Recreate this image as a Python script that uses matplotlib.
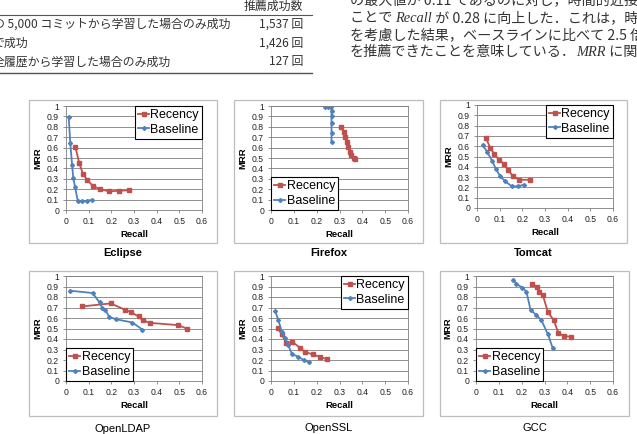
import matplotlib
matplotlib.use("Agg")
import matplotlib.pyplot as plt
from matplotlib.patches import Rectangle
from matplotlib.lines import Line2D

W, H = 637, 434
JP = ['Noto Sans CJK JP', 'DejaVu Sans']
plt.rcParams['font.family'] = ['Liberation Sans', 'DejaVu Sans']

# ---- data ----
projects = ["Eclipse", "Firefox", "Tomcat", "OpenLDAP", "OpenSSL", "GCC"]

eclipse_rec_x = [0.041, 0.058, 0.074, 0.093, 0.117, 0.148, 0.19, 0.236, 0.278]
eclipse_rec_y = [0.61, 0.455, 0.35, 0.29, 0.235, 0.20, 0.18, 0.185, 0.19]
eclipse_base_x = [0.012, 0.019, 0.027, 0.032, 0.040, 0.052, 0.072, 0.093, 0.115]
eclipse_base_y = [0.89, 0.64, 0.43, 0.31, 0.22, 0.087, 0.083, 0.09, 0.096]

firefox_rec_x = [0.306, 0.318, 0.326, 0.333, 0.339, 0.345, 0.352, 0.363, 0.370]
firefox_rec_y = [0.80, 0.753, 0.705, 0.657, 0.609, 0.561, 0.526, 0.497, 0.487]
firefox_base_x = [0.236, 0.250, 0.264, 0.265, 0.265, 0.265, 0.265, 0.265]
firefox_base_y = [0.987, 0.994, 0.987, 0.955, 0.90, 0.833, 0.744, 0.65]

tomcat_rec_x = [0.040, 0.059, 0.076, 0.096, 0.118, 0.137, 0.157, 0.187, 0.232]
tomcat_rec_y = [0.677, 0.58, 0.526, 0.468, 0.429, 0.37, 0.313, 0.274, 0.274]
tomcat_base_x = [0.025, 0.044, 0.066, 0.084, 0.103, 0.125, 0.154, 0.181, 0.206]
tomcat_base_y = [0.613, 0.548, 0.461, 0.377, 0.306, 0.258, 0.21, 0.21, 0.226]

ldap_rec_x = [0.071, 0.197, 0.259, 0.288, 0.320, 0.338, 0.369, 0.495, 0.532]
ldap_rec_y = [0.71, 0.739, 0.68, 0.653, 0.615, 0.58, 0.554, 0.532, 0.50]
ldap_base_x = [0.018, 0.117, 0.148, 0.160, 0.174, 0.191, 0.219, 0.293, 0.337]
ldap_base_y = [0.86, 0.838, 0.748, 0.694, 0.675, 0.611, 0.589, 0.557, 0.49]

ssl_rec_x = [0.029, 0.047, 0.066, 0.094, 0.127, 0.149, 0.182, 0.215, 0.246]
ssl_rec_y = [0.505, 0.444, 0.362, 0.371, 0.317, 0.276, 0.254, 0.229, 0.206]
ssl_base_x = [0.018, 0.032, 0.047, 0.061, 0.076, 0.091, 0.120, 0.146, 0.168]
ssl_base_y = [0.667, 0.584, 0.467, 0.413, 0.34, 0.26, 0.229, 0.197, 0.178]

gcc_rec_x = [0.247, 0.268, 0.278, 0.293, 0.315, 0.340, 0.361, 0.384, 0.416]
gcc_rec_y = [0.927, 0.892, 0.847, 0.815, 0.656, 0.58, 0.458, 0.43, 0.42]
gcc_base_x = [0.164, 0.177, 0.203, 0.221, 0.239, 0.264, 0.286, 0.315, 0.336]
gcc_base_y = [0.962, 0.924, 0.89, 0.85, 0.675, 0.63, 0.58, 0.446, 0.312]

series = [
    (eclipse_rec_x, eclipse_rec_y, eclipse_base_x, eclipse_base_y),
    (firefox_rec_x, firefox_rec_y, firefox_base_x, firefox_base_y),
    (tomcat_rec_x, tomcat_rec_y, tomcat_base_x, tomcat_base_y),
    (ldap_rec_x, ldap_rec_y, ldap_base_x, ldap_base_y),
    (ssl_rec_x, ssl_rec_y, ssl_base_x, ssl_base_y),
    (gcc_rec_x, gcc_rec_y, gcc_base_x, gcc_base_y),
]

table_rows = ["の 5,000 コミットから学習した場合のみ成功", "で成功", "全履歴から学習した場合のみ成功"]
table_counts = ["1,537 回", "1,426 回", "127 回"]
table_header = "推薦成功数"

body_lines = [
    [("の最大値が 0.11 であるのに対し，時間的近接性を", None)],
    [("ことで ", None), ("Recall", "it"), (" が 0.28 に向上した．これは，時間", None)],
    [("を考慮した結果，ベースラインに比べて 2.5 倍の", None)],
    [("を推薦できたことを意味している．", None), ("MRR", "it"), (" に関し", None)],
]

# ---- layout (pixels) ----
frames = [(29, 100, 217, 243), (234, 100, 423, 243), (440, 100, 627, 243),
          (29, 271, 217, 416), (234, 271, 423, 416), (440, 271, 629, 416)]
plots = [(66, 106, 202, 210), (271, 106, 408, 210), (477, 105, 613, 208),
         (66, 276, 202, 381), (271, 276, 408, 381), (476, 276, 613, 381)]
legend_locs = ["upper right", "lower left", "upper right",
               "lower left", "upper right", "lower left"]
title_y = [253, 253, 253, 429, 428, 428]

RED = "#C0504D"
BLUE = "#4F81BD"

fig = plt.figure(figsize=(W / 100, H / 100), dpi=100)
renderer = fig.canvas.get_renderer()


def fx(px):
    return px / W


def fy(py):
    return 1 - py / H


# ---- top-left table ----
fig.text(fx(303), fy(6), table_header, family=JP, fontsize=8.6, ha="right", va="center", color="#333333")
fig.add_artist(Line2D([0, fx(312)], [fy(15), fy(15)], color="#555555", lw=0.8))
for i, (label, cnt) in enumerate(zip(table_rows, table_counts)):
    y = 24 + i * 19
    x0 = -7 if i != 1 else -8
    fig.text(fx(x0), fy(y), label, family=JP, fontsize=8.6, ha="left", va="center", color="#333333")
    fig.text(fx(303), fy(y), cnt, family=JP, fontsize=8.6, ha="right", va="center", color="#333333")
fig.add_artist(Line2D([0, fx(312)], [fy(73), fy(73)], color="#555555", lw=1.0))

# ---- top-right paragraph ----
for i, runs in enumerate(body_lines):
    x = 350
    y = 1 + i * 17
    for s, style in runs:
        if style == "it":
            t = fig.text(fx(x), fy(y), s, family="Liberation Serif", style="italic",
                         fontsize=10.4, ha="left", va="center", color="#333333")
        else:
            t = fig.text(fx(x), fy(y), s, family=JP, fontsize=10.2, ha="left", va="center", color="#333333")
        x += t.get_window_extent(renderer).width

# ---- charts ----
for k in range(6):
    l, t, r, b = frames[k]
    fig.add_artist(Rectangle((fx(l), fy(b)), fx(r) - fx(l), fy(t) - fy(b), transform=fig.transFigure,
                             fill=False, edgecolor="#bdbdbd", lw=0.9))
    pl, pt, pr, pb = plots[k]
    ax = fig.add_axes([fx(pl), fy(pb), fx(pr) - fx(pl), fy(pt) - fy(pb)])
    rx, ry, bx, by = series[k]
    ax.plot(rx, ry, color=RED, lw=1.3, marker="s", ms=2.8, label="Recency")
    ax.plot(bx, by, color=BLUE, lw=1.3, marker="D", ms=2.0, label="Baseline")
    ax.set_xlim(0, 0.6)
    ax.set_ylim(0, 1)
    ax.set_xticks([0, 0.1, 0.2, 0.3, 0.4, 0.5, 0.6])
    ax.set_xticklabels(["0", "0.1", "0.2", "0.3", "0.4", "0.5", "0.6"])
    ax.set_yticks([i / 10 for i in range(11)])
    ax.set_yticklabels(["0"] + ["0.%d" % i for i in range(1, 10)] + ["1"])
    ax.tick_params(labelsize=6.2, length=2, width=0.6, color="#808080", labelcolor="#222222", pad=3)
    ax.grid(axis="y", color="#7f7f7f", lw=0.6)
    ax.set_axisbelow(True)
    for sp in ax.spines.values():
        sp.set_color("#7f7f7f")
        sp.set_linewidth(0.6)
    ax.set_xlabel("Recall", fontsize=6.8, fontweight="bold", labelpad=3)
    ax.set_ylabel("MRR", fontsize=6.8, fontweight="bold", labelpad=3)
    anchor = (1, 1) if legend_locs[k] == "upper right" else (0, 0)
    leg = ax.legend(loc=legend_locs[k], bbox_to_anchor=anchor, borderaxespad=0, fontsize=9,
                    fancybox=False, framealpha=1, edgecolor="black", handlelength=0.9,
                    handletextpad=0.1, borderpad=0.25, labelspacing=0.2)
    leg.get_frame().set_linewidth(0.8)
    fig.text(fx((l + r) / 2), fy(title_y[k]), projects[k], fontsize=8,
             fontweight="bold" if k < 3 else "normal", ha="center", va="center")

fig.savefig("out.png", dpi=100)
